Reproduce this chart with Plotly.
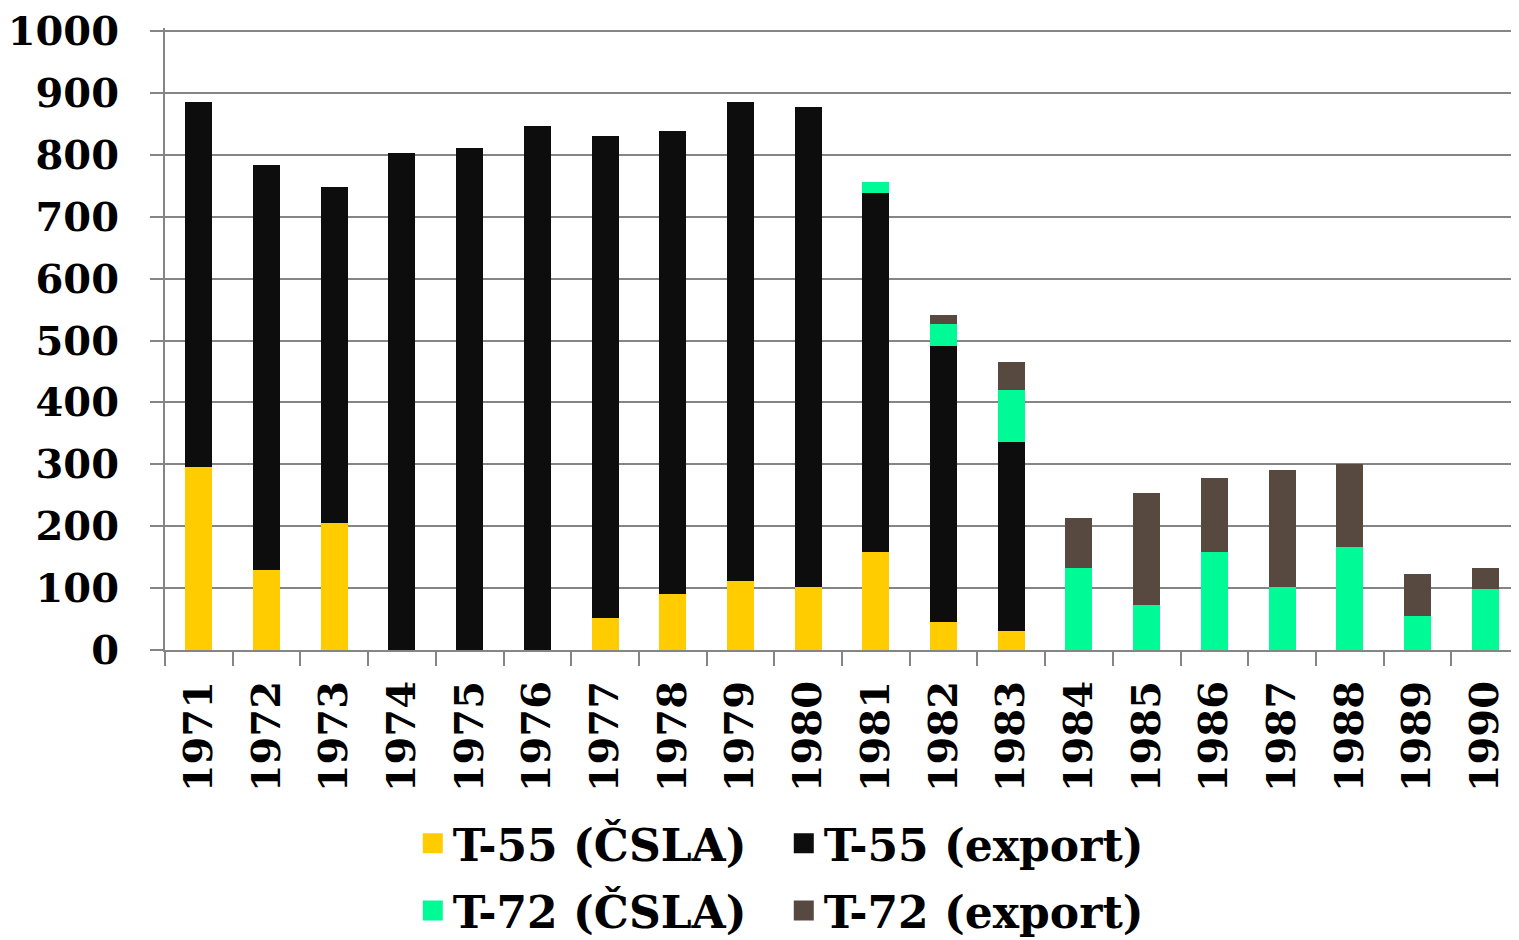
import plotly.graph_objects as go

years = [str(y) for y in range(1971, 1991)]
t55_csla   = [296, 130, 206, 0, 0, 0, 51, 91, 111, 102, 159, 46, 31, 0, 0, 0, 0, 0, 0, 0]
t55_export = [589, 654, 542, 803, 811, 846, 780, 748, 775, 775, 580, 446, 305, 0, 0, 0, 0, 0, 0, 0]
t72_csla   = [0, 0, 0, 0, 0, 0, 0, 0, 0, 0, 17, 35, 84, 132, 72, 159, 101, 166, 55, 98]
t72_export = [0, 0, 0, 0, 0, 0, 0, 0, 0, 0, 0, 15, 45, 81, 181, 119, 190, 135, 68, 35]

names = ["T-55 (ČSLA)", "T-55 (export)", "T-72 (ČSLA)", "T-72 (export)"]
colors = ["#FFCC00", "#0D0D0D", "#00FA96", "#574840"]
series = [t55_csla, t55_export, t72_csla, t72_export]
legends = ["legend", "legend", "legend2", "legend2"]

FONT = "DejaVu Serif"
GRAY = "#858585"

fig = go.Figure()
for name, col, vals, lg in zip(names, colors, series, legends):
    fig.add_trace(go.Bar(x=years, y=vals, name=name, marker_color=col,
                         marker_line_width=0, legendgroup=name, showlegend=False))
    fig.add_trace(go.Scatter(x=[None], y=[None], mode="markers", name=name,
                             marker=dict(symbol="square", size=24, color=col,
                                         line=dict(color=col, width=4)),
                             legendgroup=name, legend=lg, showlegend=True))

legfont = dict(family=FONT, size=44, color="black", weight="bold")
# page body has an 8px default margin, so the figure is sized to fit the 1519x940 window
fig.update_layout(
    width=1511, height=932,
    barmode="stack", bargap=0.6,
    plot_bgcolor="white", paper_bgcolor="white",
    margin=dict(l=157, r=0, t=20, b=290, autoexpand=False),
    font=dict(family=FONT, size=40, color="black", weight="bold"),
    legend=dict(orientation="h", x=0.183, xanchor="left", y=-0.3115, yanchor="middle",
                entrywidth=326, font=legfont, itemsizing="trace"),
    legend2=dict(orientation="h", x=0.183, xanchor="left", y=-0.4195, yanchor="middle",
                 entrywidth=326, font=legfont, itemsizing="trace"),
)
fig.update_yaxes(range=[0, 1005], tick0=0, dtick=100, showgrid=True, gridcolor=GRAY, gridwidth=2,
                 showline=True, linecolor=GRAY, linewidth=2, ticks="outside", ticklen=13,
                 tickcolor=GRAY, tickwidth=2, zeroline=False, automargin=False,
                 ticklabelstandoff=23, ticklabeloverflow="allow",
                 tickfont=dict(family=FONT, size=40, color="black", weight="bold"))
fig.update_xaxes(type="category", tickangle=-90, tickson="boundaries", showgrid=False,
                 showline=True, linecolor=GRAY, linewidth=2, ticks="outside", ticklen=14,
                 tickcolor=GRAY, tickwidth=2, automargin=False, ticklabelstandoff=13,
                 tickfont=dict(family=FONT, size=40, color="black", weight="bold"))

fig.write_html("out.html")
